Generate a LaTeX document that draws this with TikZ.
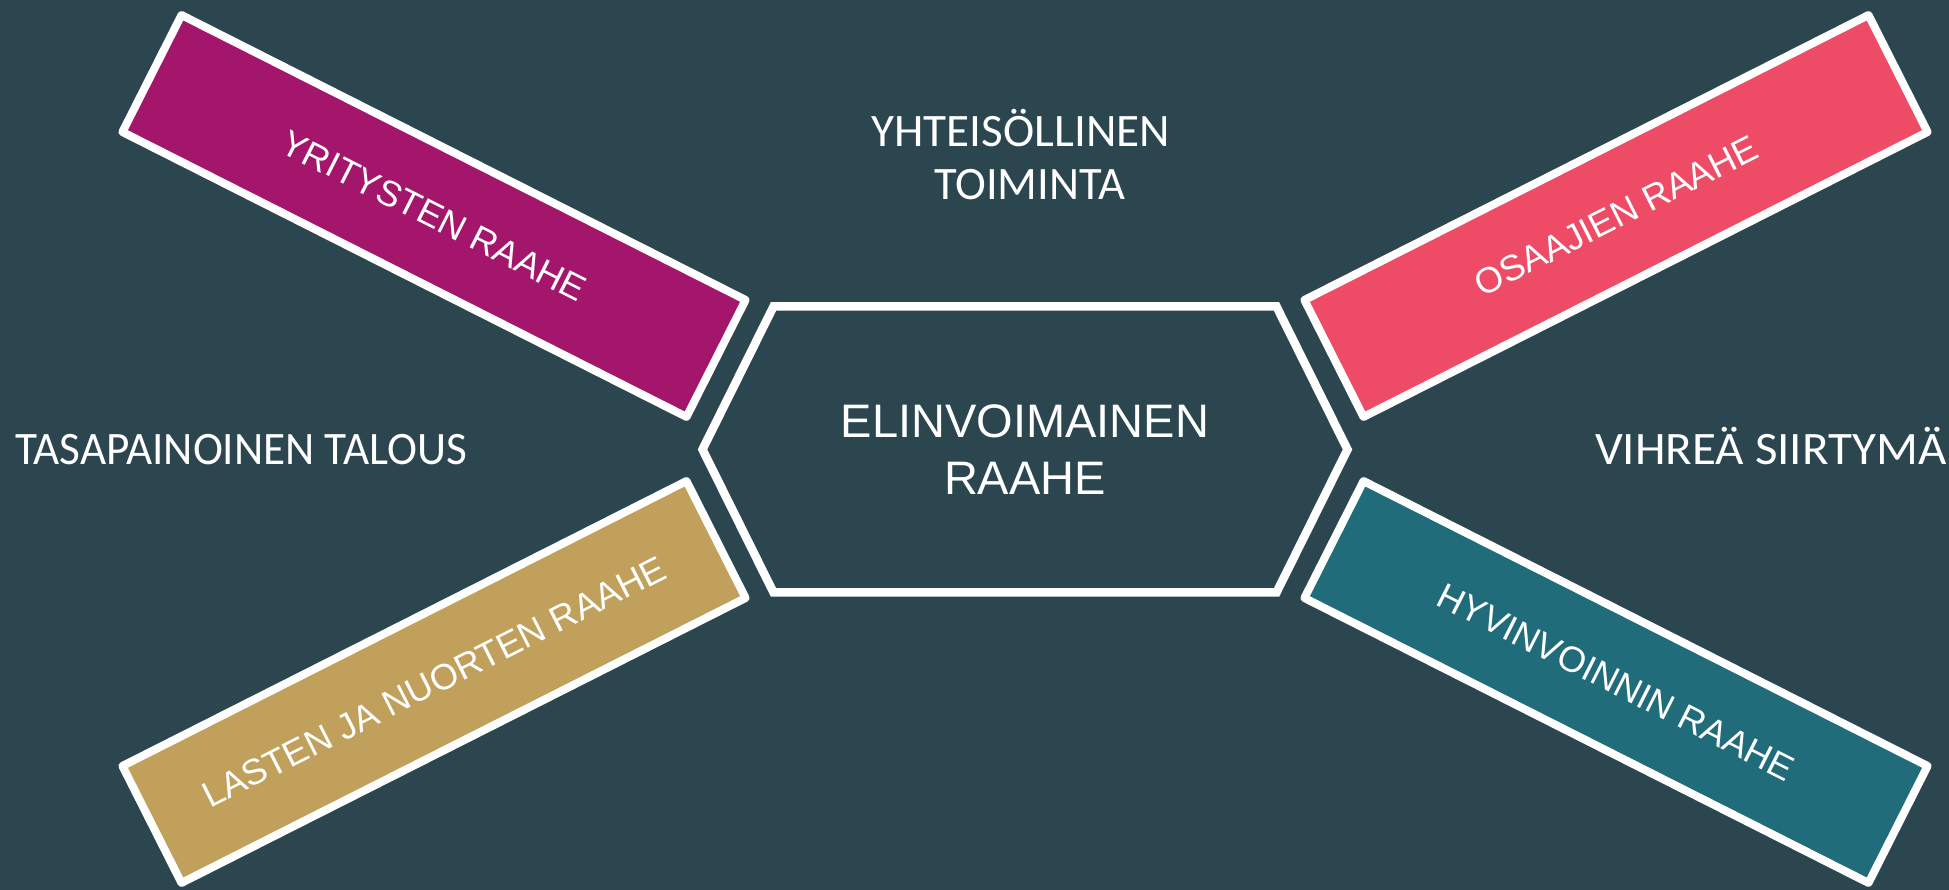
\documentclass[tikz,border=0pt]{standalone}
\usepackage{fontspec}
\setmainfont{Liberation Sans}
\newfontfamily\calfont{Carlito}
\usetikzlibrary{calc}
\definecolor{bg}{HTML}{2C4650}
\definecolor{magentaR}{HTML}{A3166B}
\definecolor{pinkR}{HTML}{EE4C66}
\definecolor{goldR}{HTML}{C0A05A}
\definecolor{tealR}{HTML}{216C7A}
\begin{document}
\begin{tikzpicture}[x=1pt,y=1pt,
  bar/.style={draw=white, line width=8pt, line join=round, minimum width=632pt, minimum height=131pt, inner sep=0pt, outer sep=0pt, text=white, font=\fontsize{36}{43}\selectfont},
  lbl/.style={text=white, inner sep=0pt, outer sep=0pt, font=\calfont\fontsize{46.5}{53}\selectfont},
  hexline/.style={draw=white, line width=8.5pt, line join=miter}]
\fill[bg] (0,0) rectangle (1949,890);
\useasboundingbox (0,0) rectangle (1949,890);
\node[bar, fill=magentaR, rotate=-26.8] (yr) at (434,674) {YRITYSTEN RAAHE};
\node[bar, fill=pinkR, rotate=26.8] (os) at (1616,674) {OSAAJIEN RAAHE};
\node[bar, fill=goldR, rotate=26.8] (la) at (434,208) {LASTEN JA NUORTEN RAAHE};
\node[bar, fill=tealR, rotate=-26.8] (hy) at (1616,208) {HYVINVOINNIN RAAHE};
\node[inner sep=0pt, outer sep=0pt, minimum width=503pt, minimum height=286pt, align=center, text=white, font=\fontsize{47}{56.7}\selectfont] (c) at (1025,440.5) {ELINVOIMAINEN\\RAAHE};
\draw[hexline] (c.north west) -- (c.north east) -- ($(c.east)+(71,0)$) -- (c.south east) -- (c.south west) -- ($(c.west)+(-71,0)$) -- cycle;
\node[lbl, anchor=base, xscale=1.013, transform shape] (yh1) at (1020.8,743.3) {YHTEISÖLLINEN};
\node[lbl, anchor=base] (yh2) at (1029.7,690) {TOIMINTA};
\node[lbl, anchor=base west, xscale=0.972, transform shape] (ta) at (15,425) {TASAPAINOINEN TALOUS};
\node[lbl, anchor=base west, xscale=1.054, transform shape] (vi) at (1595,425) {VIHREÄ SIIRTYMÄ};
\end{tikzpicture}
\end{document}
